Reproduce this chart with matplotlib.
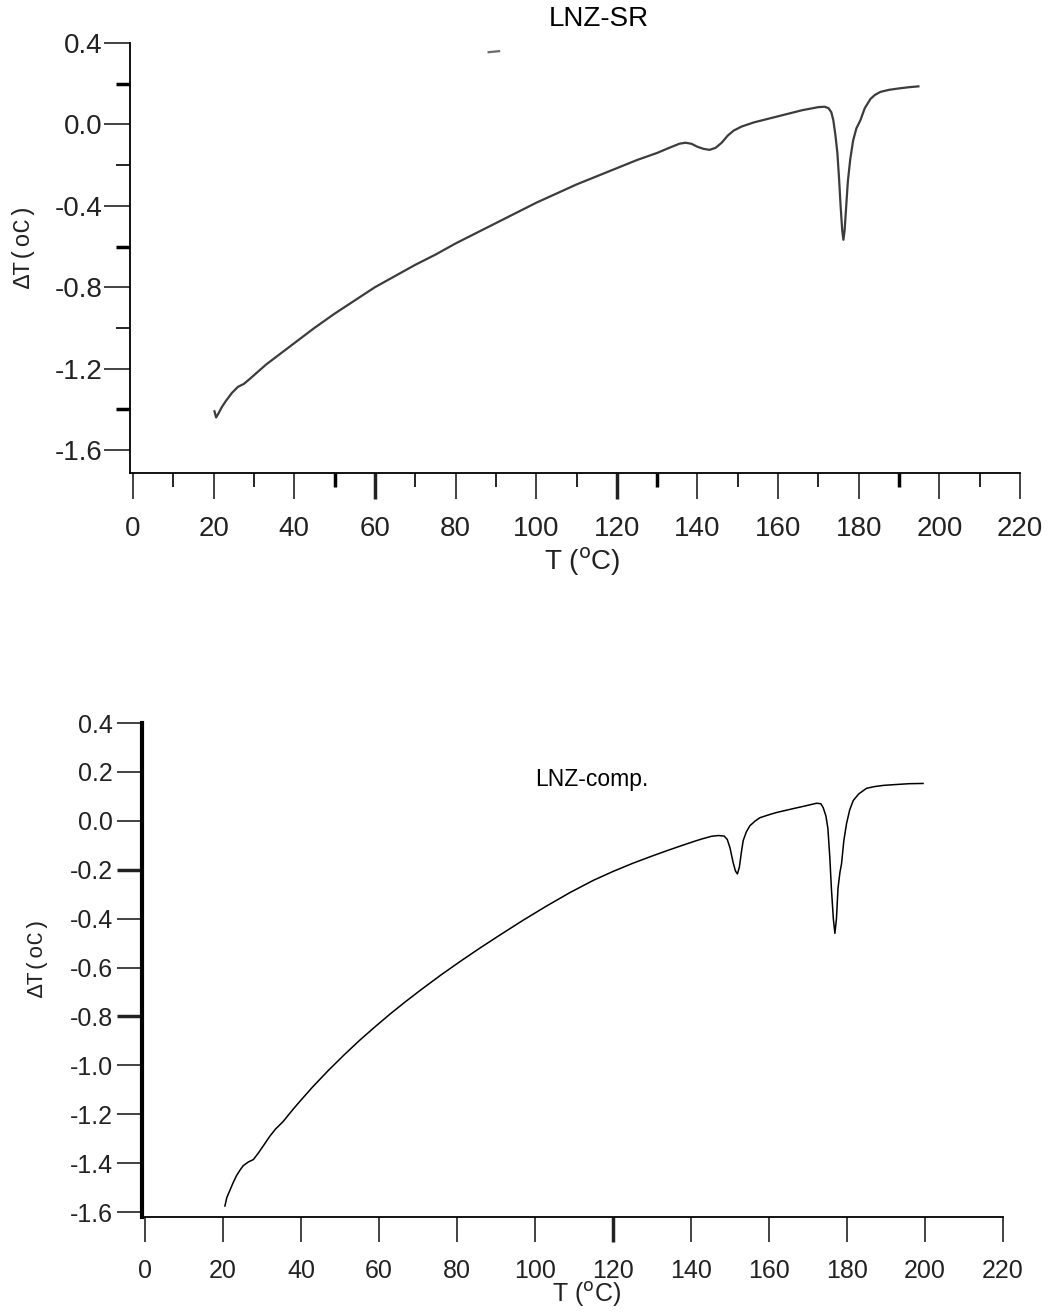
"""DTA curves for LNZ-SR and LNZ-comp. redrawn from a scanned figure."""
import matplotlib
matplotlib.use("Agg")
import matplotlib.pyplot as plt
from matplotlib.ticker import MultipleLocator

# --- data ------------------------------------------------------------------
T_SR = [20.2, 20.6, 21.2, 22, 23, 24.5, 26, 27.5, 29, 31, 33, 36, 40, 45, 50, 55,
        60, 65, 70, 75, 80, 85, 90, 95, 100, 105, 110, 115, 120, 125, 130, 133,
        135.5, 137, 138.5, 140, 141.5, 143, 144.5, 146, 147.5, 149, 151, 154, 158,
        162, 166, 170, 171.5, 172.5, 173.2, 173.7, 174.2, 174.7, 175.1, 175.5,
        175.9, 176.2, 176.5, 176.9, 177.3, 177.9, 178.6, 179.4, 180.4, 181.5,
        182.9, 184, 185.4, 187.5, 190, 192.5, 194.8]
DT_SR = [-1.41, -1.44, -1.42, -1.39, -1.36, -1.32, -1.29, -1.275, -1.25, -1.215,
         -1.18, -1.135, -1.075, -1.00, -0.93, -0.865, -0.80, -0.745, -0.69, -0.64,
         -0.585, -0.535, -0.485, -0.435, -0.385, -0.34, -0.295, -0.255, -0.215,
         -0.175, -0.14, -0.115, -0.095, -0.09, -0.095, -0.11, -0.12, -0.125,
         -0.115, -0.09, -0.055, -0.03, -0.01, 0.01, 0.03, 0.05, 0.07, 0.085,
         0.087, 0.08, 0.06, 0.02, -0.05, -0.14, -0.26, -0.40, -0.52, -0.567,
         -0.52, -0.40, -0.28, -0.17, -0.08, -0.02, 0.02, 0.08, 0.125, 0.145,
         0.16, 0.17, 0.177, 0.183, 0.187]
# small stray stroke near the top of the first panel
T_STRAY = [88.2, 90.8]
DT_STRAY = [0.355, 0.36]

T_COMP = [20.5, 21, 21.8, 22.6, 23.5, 24.3, 25.2, 26.5, 27.8, 29, 30.3, 32, 33.5,
          35.4, 38, 40, 43, 47, 51, 55, 59, 63, 67, 71, 76, 81, 86, 91, 97, 103,
          109, 115, 120, 125, 130, 134, 138, 141, 143, 145.3, 147, 148.5, 149.3,
          150, 150.8, 151.4, 151.9, 152.4, 153, 153.4, 154.2, 155.1, 156.5, 157.7,
          160, 161.9, 166.2, 169, 172.2, 173.3, 173.9, 174.6, 175.1, 175.6, 176,
          176.5, 176.9, 177.3, 177.7, 178.2, 178.6, 179.2, 179.9, 180.7, 181.6,
          183, 185, 187, 189.3, 192, 196, 199.5]
DT_COMP = [-1.575, -1.54, -1.51, -1.48, -1.45, -1.43, -1.41, -1.395, -1.385,
           -1.36, -1.33, -1.29, -1.26, -1.23, -1.179, -1.142, -1.088, -1.021,
           -0.958, -0.898, -0.842, -0.788, -0.737, -0.688, -0.629, -0.573, -0.519,
           -0.467, -0.406, -0.348, -0.293, -0.243, -0.207, -0.174, -0.144, -0.121,
           -0.099, -0.083, -0.073, -0.063, -0.06, -0.062, -0.076, -0.11, -0.17,
           -0.205, -0.217, -0.19, -0.12, -0.08, -0.045, -0.02, 0.0, 0.013, 0.025,
           0.034, 0.05, 0.06, 0.072, 0.07, 0.054, 0.02, -0.03, -0.15, -0.275,
           -0.40, -0.46, -0.40, -0.275, -0.21, -0.176, -0.08, -0.01, 0.045, 0.083,
           0.11, 0.133, 0.14, 0.145, 0.148, 0.152, 0.153]

SR_YTICKS = [-1.6, -1.2, -0.8, -0.4, 0.0, 0.4]
COMP_YTICKS = [-1.6, -1.4, -1.2, -1.0, -0.8, -0.6, -0.4, -0.2, 0.0, 0.2, 0.4]

LABEL_FONT = "Liberation Sans"
YLAB_FONT = ["Liberation Mono", "DejaVu Sans Mono"]

fig = plt.figure(figsize=(10.57, 13.12), dpi=100)


def style_axes(ax):
    for s in ("top", "right"):
        ax.spines[s].set_visible(False)
    for lab in ax.get_xticklabels() + ax.get_yticklabels():
        lab.set_family(LABEL_FONT)


def thicken(axis, locs, minor=False, w=2.5):
    # the scanned plot has a few heavier tick marks; mimic them
    ticks = axis.get_minor_ticks() if minor else axis.get_major_ticks()
    tlocs = axis.get_minorticklocs() if minor else axis.get_majorticklocs()
    for t, loc in zip(ticks, tlocs):
        if any(abs(loc - v) < 1e-6 for v in locs):
            t.tick1line.set_markeredgewidth(w)


# ---- top panel: LNZ-SR ----
ax1 = fig.add_axes([0.123, 0.6395, 0.842, 0.3277])
ax1.plot(T_SR, DT_SR, color="#3c3c3c", lw=1.6)
ax1.plot(T_STRAY, DT_STRAY, color="#6a6a6a", lw=1.6)
ax1.set_xlim(-0.75, 220)
ax1.set_ylim(-1.713, 0.4)
ax1.xaxis.set_major_locator(MultipleLocator(20))
ax1.xaxis.set_minor_locator(MultipleLocator(10))
ax1.yaxis.set_minor_locator(MultipleLocator(0.2))
ax1.set_yticks(SR_YTICKS)
ax1.set_yticklabels([f"{v:.1f}" for v in SR_YTICKS])
ax1.tick_params(which="major", direction="out", length=19, width=1.2,
                labelsize=20, colors="#222222", pad=1)
ax1.tick_params(which="minor", direction="out", length=10, width=1.2)
ax1.tick_params(axis="x", pad=12)
for s in ("left", "bottom"):
    ax1.spines[s].set_linewidth(1.3)
style_axes(ax1)
thicken(ax1.yaxis, [0.2, -0.6, -1.4], minor=True)
thicken(ax1.xaxis, [50, 130, 190], minor=True)
thicken(ax1.xaxis, [60, 120])
fig.text(0.5667, 0.9855, "LNZ-SR", ha="center", va="center",
         family=LABEL_FONT, fontsize=20)
fig.text(0.551, 0.5716, r"T ($^{\mathrm{o}}$C)", ha="center", va="center",
         family=LABEL_FONT, fontsize=20, color="#222222")
fig.text(0.022, 0.8125, r"ΔT(oC)", ha="center", va="center", rotation=90,
         family=YLAB_FONT, fontsize=17, color="#222222")

# ---- bottom panel: LNZ-comp. ----
ax2 = fig.add_axes([0.1343, 0.0724, 0.8146, 0.3765])
ax2.plot(T_COMP, DT_COMP, color="black", lw=1.1)
ax2.set_xlim(-0.77, 220)
ax2.set_ylim(-1.62, 0.4)
ax2.xaxis.set_major_locator(MultipleLocator(20))
ax2.set_yticks(COMP_YTICKS)
ax2.set_yticklabels([f"{v:.1f}" for v in COMP_YTICKS])
ax2.tick_params(direction="out", length=18, width=1.2, labelsize=18,
                colors="#222222", pad=3)
ax2.tick_params(axis="x", pad=12)
ax2.spines["left"].set_linewidth(3)
ax2.spines["bottom"].set_linewidth(1.3)
style_axes(ax2)
thicken(ax2.yaxis, [-0.2, -0.8])
thicken(ax2.xaxis, [120])
ax2.text(0.523, 0.885, "LNZ-comp.", transform=ax2.transAxes, ha="center",
         va="center", family=LABEL_FONT, fontsize=16.5)
fig.text(0.5545, 0.0135, r"T ($^{\mathrm{o}}$C)", ha="center", va="center",
         family=LABEL_FONT, fontsize=18, color="#222222")
fig.text(0.035, 0.2705, r"ΔT(oC)", ha="center", va="center", rotation=90,
         family=YLAB_FONT, fontsize=16, color="#222222")

fig.savefig("out.png", dpi=100)
